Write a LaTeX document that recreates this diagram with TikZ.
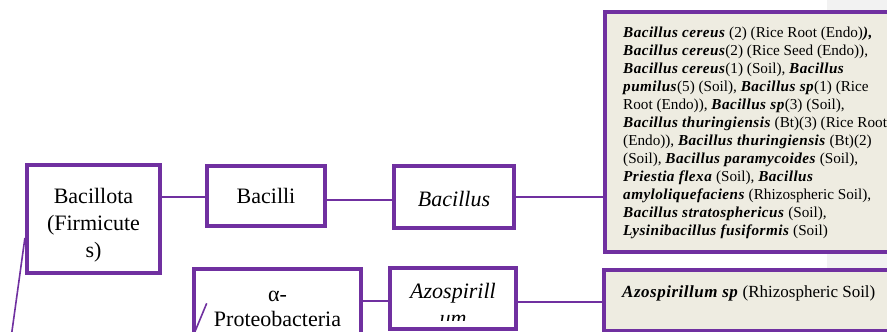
\documentclass[tikz,border=0pt]{standalone}
\usepackage{fontspec}
\setmainfont{Liberation Serif}[BoldItalicFeatures={LetterSpace=3}]
\definecolor{purp}{HTML}{7030A0}
\definecolor{tan}{HTML}{EEECE1}
\definecolor{pagegray}{HTML}{F2F2F2}
\newcommand{\bi}[1]{\textbf{\textit{#1}}}
\tikzset{
  taxbox/.style={draw=purp, line width=4.2pt, fill=white, inner sep=0pt,
    align=center, font=\fontsize{22}{27}\selectfont},
  taxtext/.style={inner sep=0pt, align=center, font=\fontsize{22}{27}\selectfont},
  sppbox/.style={draw=purp, line width=4.2pt, fill=tan, inner sep=0pt},
  link/.style={draw=purp, line width=1.6pt},
  spptext/.style={inner sep=0pt, align=left, font=\fontsize{15.2}{18}\selectfont},
}
\begin{document}
\begin{tikzpicture}[x=1pt,y=-1pt]
\clip (0,0) rectangle (887,332);
\fill[white] (0,0) rectangle (887,332);
\fill[pagegray] (827,0) rectangle (887,332);

% taxonomy boxes
\node[taxbox, minimum width=133pt, minimum height=108pt] (bacillota) at (93.5,219) {};
\node[taxtext] (bacillotatext) at (93.5,225) {Bacillota\\(Firmicute\\s)};
\node[taxbox, minimum width=118pt, minimum height=60pt] (bacilli) at (266,196) {Bacilli};
\node[taxbox, minimum width=120pt, minimum height=62pt] (bacillus) at (454,197) {};
\node[taxtext] (bacillustext) at (454,199) {\textit{Bacillus}};
\node[taxbox, minimum width=167pt, minimum height=80pt] (alpha) at (277.5,309) {};
\node[taxtext, anchor=north, font=\fontsize{22}{25}\selectfont]
  (alphatext) at (277.5,290.5) {α-\\Proteobacteria};
\node[taxbox, minimum width=126pt, minimum height=61pt] (azo) at (453,298.5) {};
\begin{scope}
  \clip (392,270) rectangle (514,320);
  \node[taxtext, anchor=north] (azotext) at (453,283) {\textit{Azospirill}\\\textit{um}};
\end{scope}

% species boxes
\node[sppbox, minimum width=315pt, minimum height=240pt] (bacspp) at (762.5,132) {};
\node[spptext, anchor=north west] (bacspptext) at (623,26.4) {%
\bi{Bacillus cereus} (2) (Rice Root (Endo)\bi{),}\\
\bi{Bacillus cereus}(2) (Rice Seed (Endo)),\\
\bi{Bacillus cereus}(1) (Soil), \bi{Bacillus}\\
\bi{pumilus}(5) (Soil), \bi{Bacillus sp}(1) (Rice\\
Root (Endo)), \bi{Bacillus sp}(3) (Soil),\\
\bi{Bacillus thuringiensis} (Bt)(3) (Rice Root\\
(Endo)), \bi{Bacillus thuringiensis} (Bt)(2)\\
(Soil), \bi{Bacillus paramycoides} (Soil),\\
\bi{Priestia flexa} (Soil), \bi{Bacillus}\\
\bi{amyloliquefaciens} (Rhizospheric Soil),\\
\bi{Bacillus stratosphericus} (Soil),\\
\bi{Lysinibacillus fusiformis} (Soil)};
\node[sppbox, minimum width=316pt, minimum height=61pt] (azospp) at (762,300.5) {};
\node[spptext, anchor=base west, font=\fontsize{17}{20}\selectfont] (azospptext) at (622,297.5)
  {\bi{Azospirillum sp} (Rhizospheric Soil)};

% connectors
\draw[link] (bacillota.east |- 0,197) -- (bacilli.west |- 0,197);
\draw[link] (bacilli.east |- 0,200) -- (bacillus.west |- 0,200);
\draw[link] (bacillus.east |- 0,197) -- (bacspp.west |- 0,197);
\draw[link] (alpha.east |- 0,301) -- (azo.west |- 0,301);
\draw[link] (azo.east |- 0,302) -- (azospp.west |- 0,302);

% branches rising from the phylum level below
\coordinate (rootA) at (8,360);
\coordinate (rootB) at (184,358);
\draw[link] (rootA) -- (bacillota.west |- 0,238);
\draw[link] (rootB) -- (206.7,303.3);
\end{tikzpicture}
\end{document}
